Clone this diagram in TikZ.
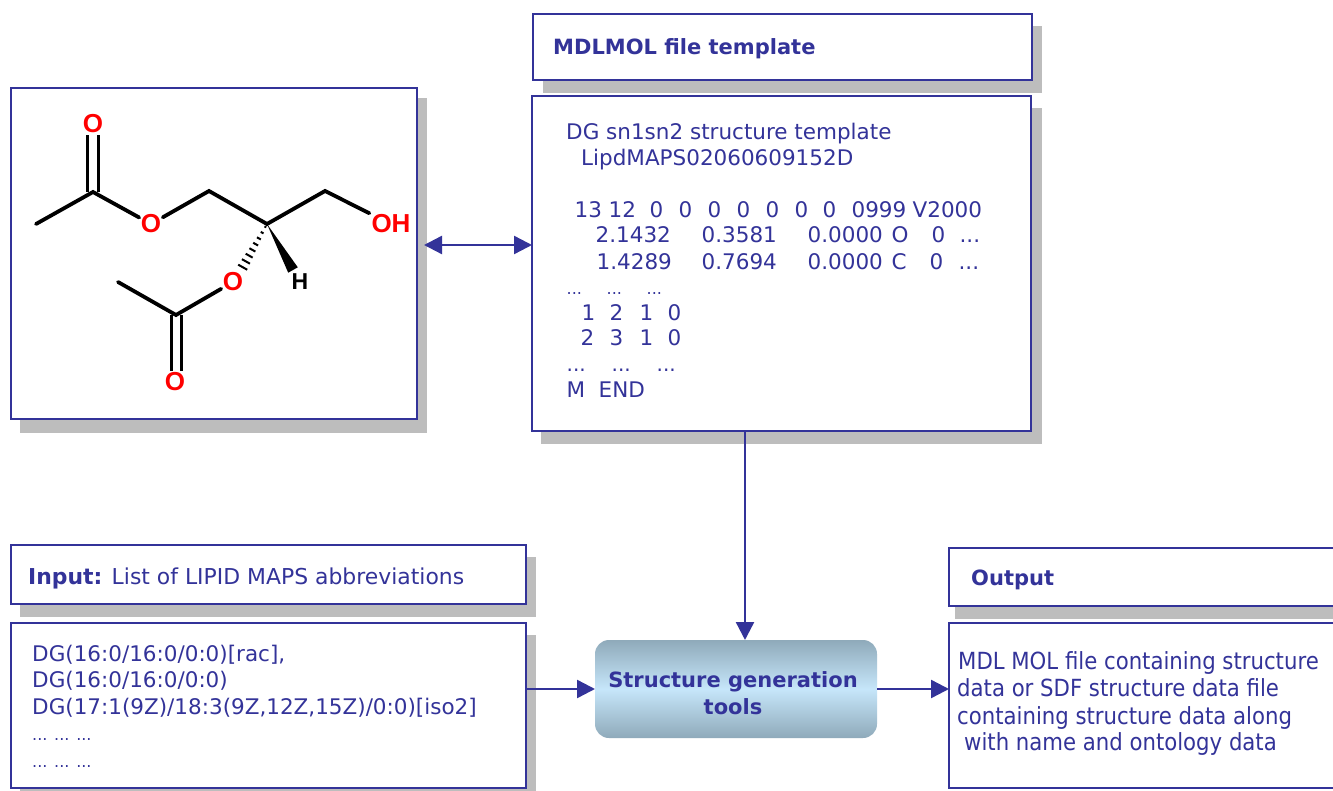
\documentclass[tikz,border=0pt]{standalone}
\usepackage{fontspec}
\setmainfont{DejaVu Sans}
\newfontfamily\condfont{DejaVu Sans Condensed}
\newfontfamily\atomfont{Liberation Sans}
\usetikzlibrary{arrows.meta,calc}
\definecolor{ink}{HTML}{333399}
\definecolor{shadowgray}{HTML}{BDBDBD}
\definecolor{toolTop}{HTML}{8FAABA}
\definecolor{toolMid}{HTML}{C6E6FA}
\newcommand{\tk}[2]{\rlap{\hspace*{#1pt}#2}}
\tikzset{
  x=1pt,y=-1pt,
  box/.style={draw=ink,line width=2.6pt,fill=white,inner sep=0pt,outer sep=0pt,anchor=north west},
  base/.style={text=ink,anchor=base west,inner sep=0pt},
  txt/.style={base,font=\fontsize{21.5}{24}\selectfont,yshift=-1.5pt},
  dots/.style={base,font=\fontsize{16}{18}\selectfont,yshift=-1.5pt},
  cond/.style={base,font=\condfont\fontsize{23.6}{26}\selectfont,yshift=-1pt},
  head/.style={base,font=\fontsize{21}{24}\selectfont\bfseries},
  link/.style={draw=ink,line width=2.4pt,-{Triangle[length=18pt,width=18pt]}},
  bond/.style={line width=3.8pt,black,line cap=round},
  atomO/.style={text=red,font=\atomfont\bfseries\fontsize{26}{26}\selectfont,inner sep=1.5pt},
  atomH/.style={text=black,font=\atomfont\bfseries\fontsize{23}{23}\selectfont,inner sep=2pt},
}
\begin{document}
\begin{tikzpicture}
\useasboundingbox (0,0) rectangle (1333,791);
\fill[white] (0,0) rectangle (1333,791);
% shadows
\fill[shadowgray] (20,98) rectangle (427,433);
\fill[shadowgray] (543,26) rectangle (1042,93);
\fill[shadowgray] (541,108) rectangle (1042,444);
\fill[shadowgray] (20,557) rectangle (536,617);
\fill[shadowgray] (20,635) rectangle (536,800);
\fill[shadowgray] (955,560) rectangle (1340,619);
% boxes
\node[box,minimum width=406pt,minimum height=331pt] (mol) at (11,88) {};
\node[box,minimum width=499pt,minimum height=66pt] (hdr) at (533,14) {};
\node[box,minimum width=499pt,minimum height=335pt] (tmpl) at (532,96) {};
\node[box,minimum width=515pt,minimum height=59pt] (inp) at (11,545) {};
\node[box,minimum width=515pt,minimum height=165pt] (lst) at (11,623) {};
\node[box,minimum width=395pt,minimum height=58pt] (outh) at (949,548) {};
\node[box,minimum width=395pt,minimum height=165pt] (outb) at (949,623) {};
\node[anchor=north west,minimum width=282pt,minimum height=98pt,rounded corners=14pt,inner sep=0pt,outer sep=0pt,
      top color=toolTop,bottom color=toolTop,middle color=toolMid] (tools) at (595,640) {};
% header texts
\node[head] (thdr) at (553,55) {MDLMOL file template};
\node[base,font=\fontsize{21.9}{24}\selectfont] (tinp) at (28,584.5) {\textbf{Input:} List of LIPID MAPS abbreviations};
\node[head] (toutp) at (971,585) {Output};
\node[head,align=center,anchor=base] (ttool1) at (733,687) {Structure generation};
\node[head,align=center,anchor=base] (ttool2) at (733,714) {tools};
% template lines
\node[txt] (a1) at (566,138) {DG sn1sn2 structure template};
\node[txt] (a2) at (581,164) {LipdMAPS02060609152D};
\node[txt] (a3) at (574,216) {\tk{0}{13}\tk{34}{12}\tk{75}{0}\tk{104}{0}\tk{133}{0}\tk{162}{0}\tk{191}{0}\tk{220}{0}\tk{248}{0}\tk{277}{0999}\tk{338}{V2000}};
\node[txt] (a4) at (595,241) {\tk{0}{2.1432}\tk{106}{0.3581}\tk{212}{0.0000}\tk{296}{O}\tk{336}{0}\tk{364}{...}};
\node[txt] (a5) at (596,268) {\tk{0}{1.4289}\tk{105}{0.7694}\tk{211}{0.0000}\tk{295}{C}\tk{333}{0}\tk{362}{...}};
\node[dots] (a6) at (566,293) {\tk{0}{...}\tk{40}{...}\tk{80}{...}};
\node[txt] (a7) at (581,319) {\tk{0}{1}\tk{28}{2}\tk{58}{1}\tk{86}{0}};
\node[txt] (a8) at (580,344) {\tk{0}{2}\tk{29}{3}\tk{59}{1}\tk{87}{0}};
\node[txt,font=\fontsize{20}{24}\selectfont] (a9) at (566,370) {\tk{0}{...}\tk{45}{...}\tk{90}{...}};
\node[txt] (a10) at (566,396) {\tk{0}{M}\tk{32}{END}};
% list lines
\node[txt] (b1) at (32,660) {DG(16:0/16:0/0:0)[rac],};
\node[txt] (b2) at (32,686) {DG(16:0/16:0/0:0)};
\node[txt] (b3) at (32,713) {DG(17:1(9Z)/18:3(9Z,12Z,15Z)/0:0)[iso2]};
\node[dots] (b4) at (32,739) {... ... ...};
\node[dots] (b5) at (32,766) {... ... ...};
% output lines
\node[cond] (c1) at (958,668) {MDL MOL file containing structure};
\node[cond] (c2) at (957,695) {data or SDF structure data file};
\node[cond] (c3) at (957,723) {containing structure data along};
\node[cond] (c4) at (964,749) {with name and ontology data};
% connectors
\draw[link,{Triangle[length=18pt,width=18pt]}-{Triangle[length=18pt,width=18pt]}]
  ([xshift=7pt,yshift=8.5pt]mol.east) -- ([yshift=18.5pt]tmpl.west);
\draw[link] ([xshift=-36.5pt]tmpl.south) -- ([xshift=9pt]tools.north);
\draw[link] ([yshift=16.5pt]lst.east) -- (tools.west);
\draw[link] (tools.east) -- ([yshift=16.5pt]outb.west);
% molecule
\coordinate (me1) at (36,224);
\coordinate (cc1) at (93,192);
\node[atomO] (otop) at (93,124) {O};
\node[atomO] (oes1) at (151,224) {O};
\coordinate (ch1) at (209,191);
\coordinate (cen) at (267,224);
\coordinate (ch2) at (325,191);
\node[atomO,inner sep=2pt] (oh) at (391,224) {OH};
\node[atomO] (oes2) at (233,282) {O};
\node[atomH] (hh) at (300,282) {H};
\coordinate (wedgeend) at (293,270);
\coordinate (hashend) at (240,272);
\coordinate (cc2) at (176,315);
\coordinate (me2) at (118,282);
\node[atomO] (obot) at (175,382) {O};
\draw[bond] (me1) -- (cc1) -- (oes1) -- (ch1) -- (cen) -- (ch2) -- (oh);
\draw[bond] (me2) -- (cc2) -- (oes2);
\draw[bond,line cap=butt] ([xshift=-5.5pt]cc1) -- ([xshift=-5.5pt]cc1 |- otop.south);
\draw[bond,line cap=butt] ([xshift=5.5pt]cc1) -- ([xshift=5.5pt]cc1 |- otop.south);
\draw[bond,line cap=butt] ([xshift=-4.5pt]cc2) -- ([xshift=-4.5pt]cc2 |- obot.north);
\draw[bond,line cap=butt] ([xshift=5.5pt]cc2) -- ([xshift=5.5pt]cc2 |- obot.north);
\fill[black] (cen) -- ($(wedgeend)!5.5pt!90:(cen)$) -- ($(wedgeend)!5.5pt!-90:(cen)$) -- cycle;
\foreach \t/\w in {0.06/1,0.18/1.6,0.30/2.2,0.42/2.8,0.54/3.4,0.66/4,0.78/4.6,0.90/5.2}
  \draw[black,line width=2pt] ($(cen)!\t!(hashend)!\w pt!90:(hashend)$) -- ($(cen)!\t!(hashend)!\w pt!-90:(hashend)$);
\end{tikzpicture}
\end{document}
